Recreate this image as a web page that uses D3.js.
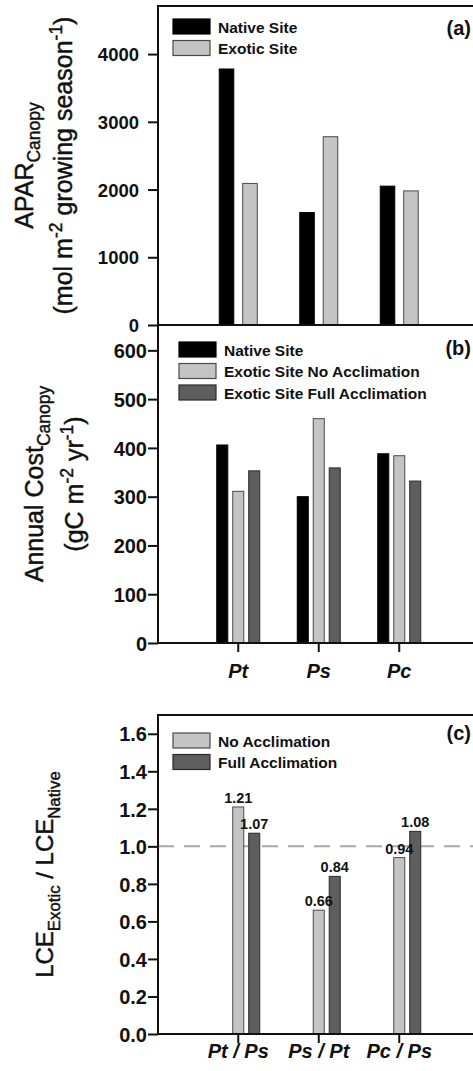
<!DOCTYPE html>
<html>
<head>
<meta charset="utf-8">
<script src="https://cdn.jsdelivr.net/npm/d3@7"></script>
<style>
  html, body { margin: 0; padding: 0; background: #fff; }
  svg { display: block; }
</style>
</head>
<body>
<svg id="chart" width="473" height="1071"></svg>
<script>
// ---- data ----
const groups = ["Pt", "Ps", "Pc"];
const ratioGroups = ["Pt / Ps", "Ps / Pt", "Pc / Ps"];

const aparSeries = ["Native Site", "Exotic Site"];
const aparNative = [3780, 1660, 2050];
const aparExotic = [2090, 2780, 1980];
const aparTicks = [0, 1000, 2000, 3000, 4000];

const costSeries = ["Native Site", "Exotic Site No Acclimation", "Exotic Site Full Acclimation"];
const costNative = [406, 300, 388];
const costNoAccl = [311, 460, 384];
const costFullAccl = [353, 359, 332];
const costTicks = [0, 100, 200, 300, 400, 500, 600];

const ratioSeries = ["No Acclimation", "Full Acclimation"];
const ratioNoAccl = [1.21, 0.66, 0.94];
const ratioFullAccl = [1.07, 0.84, 1.08];
const ratioTicks = [0, 0.2, 0.4, 0.6, 0.8, 1.0, 1.2, 1.4, 1.6];
const ratioReference = 1.0;

// ---- styling ----
const FONT = "'Liberation Sans', Arial, Helvetica, sans-serif";
const fills = { native: "#000000", light: "#c4c4c4", dark: "#5e5e5e" };
const strokes = { native: "#000000", light: "#4a4a4a", dark: "#2a2a2a" };

const svg = d3.select("#chart");
svg.append("rect").attr("width", 473).attr("height", 1071).attr("fill", "#fff");

const plotLeft = 158, plotRight = 482;

// group positions shared by all three panels
const x = d3.scaleBand().domain(d3.range(3)).range([plotLeft + 40, plotLeft + 281.5]);
const xc = i => x(i) + x.bandwidth() / 2;

// text with sub/superscript parts, optionally rotated
function richText(g, parts, tx, ty, size, opts = {}) {
  const t = g.append("text")
    .attr("transform", `translate(${tx},${ty})` + (opts.rotate ? ` rotate(${opts.rotate})` : ""))
    .attr("text-anchor", opts.anchor || "middle")
    .attr("font-family", FONT)
    .attr("font-size", size)
    .attr("font-weight", opts.weight || "normal")
    .attr("fill", "#111")
    .attr("stroke", "#111").attr("stroke-width", 0.45);
  let cur = 0;
  parts.forEach(p => {
    const target = p.s === "sub" ? size * 0.28 : p.s === "sup" ? -size * 0.42 : 0;
    const sp = t.append("tspan").text(p.t).attr("dy", target - cur);
    if (p.s) sp.attr("font-size", size * 0.7);
    cur = target;
  });
  return t;
}

function frame(top, bottom) {
  svg.append("rect")
    .attr("x", plotLeft).attr("y", top)
    .attr("width", plotRight - plotLeft).attr("height", bottom - top)
    .attr("fill", "none").attr("stroke", "#111").attr("stroke-width", 2);
}

function yAxis(y, ticks, fmt, pad, size) {
  const g = svg.append("g")
    .attr("transform", `translate(${plotLeft},0)`)
    .call(d3.axisLeft(y).tickValues(ticks).tickFormat(fmt).tickSize(10).tickSizeOuter(0).tickPadding(pad));
  g.select(".domain").remove();
  g.selectAll(".tick line").attr("stroke", "#111").attr("stroke-width", 2);
  g.selectAll(".tick text")
    .attr("font-family", FONT).attr("font-size", size).attr("font-weight", "bold")
    .attr("fill", "#111").attr("dy", "0.36em");
  return g;
}

function xAxis(bottom, labels, pad) {
  const g = svg.append("g")
    .attr("transform", `translate(0,${bottom})`)
    .call(d3.axisBottom(x).tickFormat(i => labels[i]).tickSize(9).tickSizeOuter(0).tickPadding(pad));
  g.select(".domain").remove();
  g.selectAll(".tick line").attr("stroke", "#111").attr("stroke-width", 2);
  g.selectAll(".tick text")
    .attr("font-family", FONT).attr("font-size", 20).attr("font-weight", "bold")
    .attr("font-style", "italic").attr("fill", "#111");
}

function legend(x0, y0, rows) {
  const g = svg.append("g").attr("transform", `translate(${x0},${y0})`);
  rows.forEach((r, i) => {
    g.append("rect").attr("x", 0).attr("y", i * 21.5)
      .attr("width", 37).attr("height", 15)
      .attr("fill", r.fill).attr("stroke", r.stroke).attr("stroke-width", 1.2);
    g.append("text").attr("x", 45).attr("y", i * 21.5 + 13.5)
      .attr("font-family", FONT).attr("font-size", 15.5).attr("font-weight", "bold")
      .attr("fill", "#111").text(r.label);
  });
}

function panelTag(label, baseline) {
  svg.append("text").attr("x", 471).attr("y", baseline)
    .attr("text-anchor", "end")
    .attr("font-family", FONT).attr("font-size", 20).attr("font-weight", "bold")
    .attr("fill", "#111").text(label);
}

function bars(y, sub, key, values, fill, stroke) {
  svg.append("g").selectAll("rect").data(values).join("rect")
    .attr("x", (d, i) => xc(i) + sub(key))
    .attr("y", d => y(d))
    .attr("width", sub.bandwidth())
    .attr("height", d => y(0) - y(d))
    .attr("fill", fill).attr("stroke", stroke).attr("stroke-width", 1);
}

// ---- panel (a): APAR ----
const aTop = 6, aBottom = 325;
const yA = d3.scaleLinear().domain([0, 4710]).range([aBottom, aTop]);
const subA = d3.scaleBand().domain(aparSeries).range([-19, 19]).paddingInner(0.38);

bars(yA, subA, aparSeries[0], aparNative, fills.native, strokes.native);
bars(yA, subA, aparSeries[1], aparExotic, fills.light, strokes.light);
frame(aTop, aBottom);
yAxis(yA, aparTicks, d3.format("d"), 9, 18.5);
legend(173, 19, [
  { label: aparSeries[0], fill: fills.native, stroke: strokes.native },
  { label: aparSeries[1], fill: fills.light, stroke: strokes.light }
]);
panelTag("(a)", 35);
richText(svg, [{ t: "APAR" }, { t: "Canopy", s: "sub" }], 33, (aTop + aBottom) / 2, 25, { rotate: -90 });
richText(svg, [{ t: "(mol m" }, { t: "-2", s: "sup" }, { t: " growing season" }, { t: "-1", s: "sup" }, { t: ")" }],
  72, (aTop + aBottom) / 2, 25, { rotate: -90 });

// ---- panel (b): annual canopy cost ----
const bTop = 325, bBottom = 643;
const yB = d3.scaleLinear().domain([0, 652]).range([bBottom, bTop]);
const subB = d3.scaleBand().domain(costSeries).range([-21.5, 21.5]).paddingInner(0.31);

bars(yB, subB, costSeries[0], costNative, fills.native, strokes.native);
bars(yB, subB, costSeries[1], costNoAccl, fills.light, strokes.light);
bars(yB, subB, costSeries[2], costFullAccl, fills.dark, strokes.dark);
frame(bTop, bBottom);
yAxis(yB, costTicks, d3.format("d"), 1, 20);
xAxis(bBottom, groups, 12);
legend(179, 342, [
  { label: costSeries[0], fill: fills.native, stroke: strokes.native },
  { label: costSeries[1], fill: fills.light, stroke: strokes.light },
  { label: costSeries[2], fill: fills.dark, stroke: strokes.dark }
]);
panelTag("(b)", 355);
richText(svg, [{ t: "Annual Cost" }, { t: "Canopy", s: "sub" }], 43, (bTop + bBottom) / 2, 25, { rotate: -90 });
richText(svg, [{ t: "(gC m" }, { t: "-2", s: "sup" }, { t: " yr" }, { t: "-1", s: "sup" }, { t: ")" }],
  83, (bTop + bBottom) / 2, 25, { rotate: -90 });

// ---- panel (c): light-capture efficiency ratio ----
const cTop = 715, cBottom = 1034;
const yC = d3.scaleLinear().domain([0, 1.7]).range([cBottom, cTop]);
// the two ratio bars sit in the exotic-site slots of panel (b)
const subC = d3.scaleBand().domain(["native"].concat(ratioSeries)).range([-21.5, 21.5]).paddingInner(0.31);

svg.append("line")
  .attr("x1", plotLeft).attr("x2", plotRight)
  .attr("y1", yC(ratioReference)).attr("y2", yC(ratioReference))
  .attr("stroke", "#a8a8a8").attr("stroke-width", 2).attr("stroke-dasharray", "16 10");

bars(yC, subC, ratioSeries[0], ratioNoAccl, fills.light, strokes.light);
bars(yC, subC, ratioSeries[1], ratioFullAccl, fills.dark, strokes.dark);

const fmt2 = d3.format(".2f");
[[ratioSeries[0], ratioNoAccl], [ratioSeries[1], ratioFullAccl]].forEach(([key, vals]) => {
  svg.append("g").selectAll("text").data(vals).join("text")
    .attr("x", (d, i) => xc(i) + subC(key) + subC.bandwidth() / 2)
    .attr("y", d => yC(d) - 4)
    .attr("text-anchor", "middle")
    .attr("font-family", FONT).attr("font-size", 14.5).attr("font-weight", "bold")
    .attr("fill", "#111").text(fmt2);
});

frame(cTop, cBottom);
yAxis(yC, ratioTicks, d3.format(".1f"), 1, 20);
xAxis(cBottom, ratioGroups, 1);
legend(173, 733, [
  { label: ratioSeries[0], fill: fills.light, stroke: strokes.light },
  { label: ratioSeries[1], fill: fills.dark, stroke: strokes.dark }
]);
panelTag("(c)", 740);
richText(svg, [{ t: "LCE" }, { t: "Exotic", s: "sub" }, { t: " / LCE" }, { t: "Native", s: "sub" }],
  53, (cTop + cBottom) / 2, 24, { rotate: -90 });
</script>
</body>
</html>
